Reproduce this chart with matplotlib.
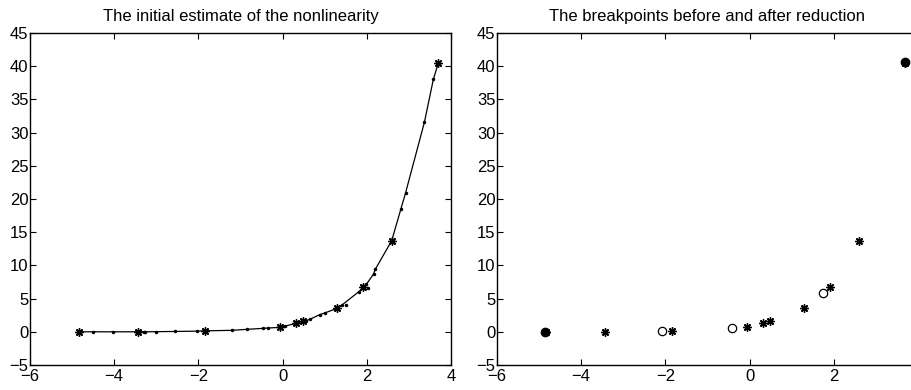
import matplotlib.pyplot as plt

plt.rcParams['font.family'] = ['Liberation Sans', 'DejaVu Sans']
plt.rcParams['font.size'] = 12

# estimate of the nonlinearity (sample points along the curve)
est_x = [-4.83, -4.51, -4.02, -3.42, -3.30, -3.26, -3.00, -2.55, -2.04, -1.82,
         -1.21, -0.85, -0.46, -0.34, -0.05, 0.06, 0.33, 0.50, 0.56, 0.65,
         0.88, 1.00, 1.29, 1.41, 1.81, 1.92, 1.99, 2.16, 2.20, 2.59,
         2.81, 2.92, 3.37, 3.58, 3.70]
est_y = [0.0, 0.0, 0.0, 0.0, 0.0, 0.0, 0.02, 0.05, 0.10, 0.15,
         0.22, 0.37, 0.52, 0.57, 0.68, 0.87, 1.28, 1.58, 1.70, 1.88,
         2.58, 2.83, 3.53, 4.03, 6.04, 6.65, 7.15, 8.70, 9.40, 13.7,
         18.5, 20.9, 31.6, 38.0, 40.5]
# a few samples slightly off the line
off_x = [1.51, 2.04]
off_y = [3.98, 6.60]

# breakpoints (before reduction)
bp_x = [-4.84, -3.44, -1.84, -0.06, 0.33, 0.49, 1.29, 1.92, 2.59, 3.70]
bp_y = [0.0, 0.0, 0.15, 0.72, 1.29, 1.62, 3.56, 6.68, 13.75, 40.55]

# breakpoints removed by the reduction
rm_x = [-2.09, -0.41, 1.74]
rm_y = [0.10, 0.62, 5.77]

# end points
end_x = [-4.85, 3.69]
end_y = [0.0, 40.6]

xticks = [-6, -4, -2, 0, 2, 4]
yticks = list(range(-5, 46, 5))


def lab(v):
    return '\u2212' + str(-v) if v < 0 else str(v)


fig = plt.figure(figsize=(9.12, 3.9), dpi=100)
ax1 = fig.add_axes([30 / 912, 25 / 390, 421 / 912, 332 / 390])
ax2 = fig.add_axes([497 / 912, 25 / 390, 421 / 912, 332 / 390])

ast = (8, 2, 0)

ax1.plot(est_x, est_y, color='black', linewidth=0.9, marker='.', markersize=3)
ax1.plot(off_x, off_y, 'k.', markersize=3)
ax1.plot(bp_x, bp_y, linestyle='none', marker=ast, color='black',
         markersize=6, markeredgewidth=1.0)
ax1.set_title('The initial estimate of the nonlinearity', fontsize=12, pad=9)

ax2.plot(bp_x, bp_y, linestyle='none', marker=ast, color='black',
         markersize=6, markeredgewidth=1.0)
ax2.plot(rm_x, rm_y, linestyle='none', marker='o', markerfacecolor='white',
         markeredgecolor='black', markersize=6, markeredgewidth=0.9)
ax2.plot(end_x, end_y, linestyle='none', marker='o', color='black', markersize=6)
ax2.set_title('The breakpoints before and after reduction', fontsize=12, pad=9)

for ax in (ax1, ax2):
    ax.set_xlim(-6, 4)
    ax.set_ylim(-5, 45)
    ax.set_xticks(xticks)
    ax.set_yticks(yticks)
    ax.set_yticklabels([lab(v) for v in yticks])
    ax.tick_params(direction='in', top=True, right=True, length=4, width=0.8,
                   labelsize=12)
    ax.tick_params(axis='x', pad=3)
    ax.tick_params(axis='y', pad=1)
    for s in ax.spines.values():
        s.set_linewidth(1.0)

ax1.set_xticklabels([lab(v) for v in xticks])
# the right panel runs past the figure edge, so its last label is not seen
ax2.set_xticklabels([lab(v) for v in xticks[:-1]] + [''])

fig.savefig('out.png', dpi=100)
